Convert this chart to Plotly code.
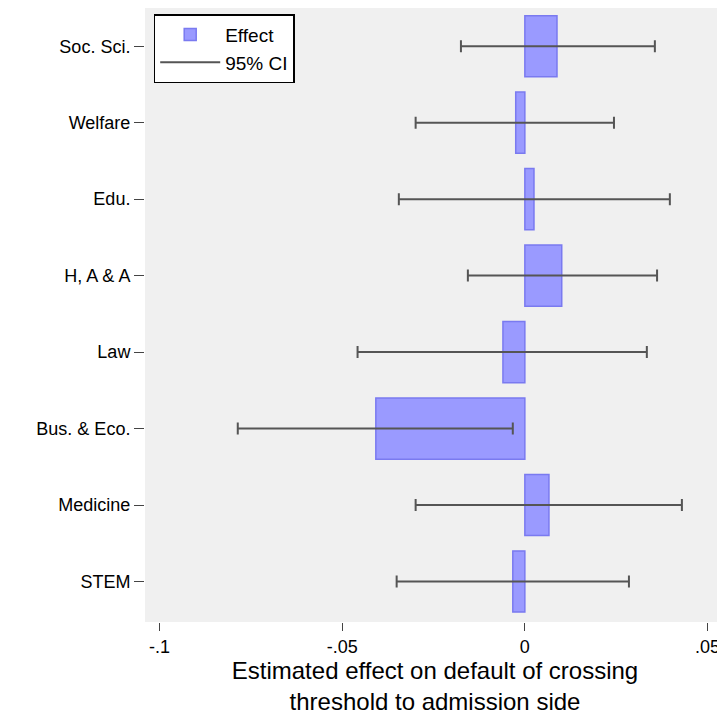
import plotly.graph_objects as go

fields = ["Soc. Sci.", "Welfare", "Edu.", "H, A & A", "Law", "Bus. & Eco.", "Medicine", "STEM"]
effect = [0.0088, -0.0025, 0.0025, 0.0101, -0.0060, -0.0408, 0.0066, -0.0033]
ci_low = [-0.0175, -0.0299, -0.0345, -0.0156, -0.0458, -0.0786, -0.0299, -0.0351]
ci_high = [0.0356, 0.0244, 0.0397, 0.0362, 0.0334, -0.0033, 0.0430, 0.0285]
xticks = [-0.1, -0.05, 0, 0.05]
xlabels = ["-.1", "-.05", "0", ".05"]

mid = [(l + h) / 2 for l, h in zip(ci_low, ci_high)]
half = [(h - l) / 2 for l, h in zip(ci_low, ci_high)]

fig = go.Figure()
fig.add_trace(go.Bar(x=effect, y=fields, orientation="h", width=0.8, name="Effect",
                     marker=dict(color="#9a9aff", line=dict(color="#7a7af0", width=1.5))))
fig.add_trace(go.Scatter(x=mid, y=fields, mode="markers", showlegend=False,
                         marker=dict(size=1, color="rgba(0,0,0,0)"),
                         error_x=dict(type="data", array=half, color="#555555",
                                      thickness=2, width=6)))
fig.add_trace(go.Scatter(x=[None], y=[None], mode="lines", name="95% CI",
                         line=dict(color="#555555", width=2)))

fig.update_layout(
    width=717, height=718, plot_bgcolor="#f0f0f0", paper_bgcolor="white",
    margin=dict(l=137, r=0, t=0, b=104, autoexpand=False),
    font=dict(family="Liberation Sans, Arial", size=18, color="black"),
    legend=dict(x=0.015, y=0.99, xanchor="left", yanchor="top", bgcolor="white",
                bordercolor="black", borderwidth=1.5, font=dict(size=19),
                itemwidth=60, tracegroupgap=4),
    xaxis=dict(range=[-0.104, 0.0548], tickvals=xticks, ticktext=xlabels,
               ticks="outside", ticklen=8, showgrid=False, zeroline=False,
               automargin=False,
               title=dict(text="Estimated effect on default of crossing<br>threshold to admission side",
                          font=dict(size=24), standoff=6)),
    yaxis=dict(categoryorder="array", categoryarray=fields[::-1], ticks="outside",
               ticklen=10, showgrid=False, range=[-0.53, 7.5], automargin=False),
)
fig.write_html("out.html")
